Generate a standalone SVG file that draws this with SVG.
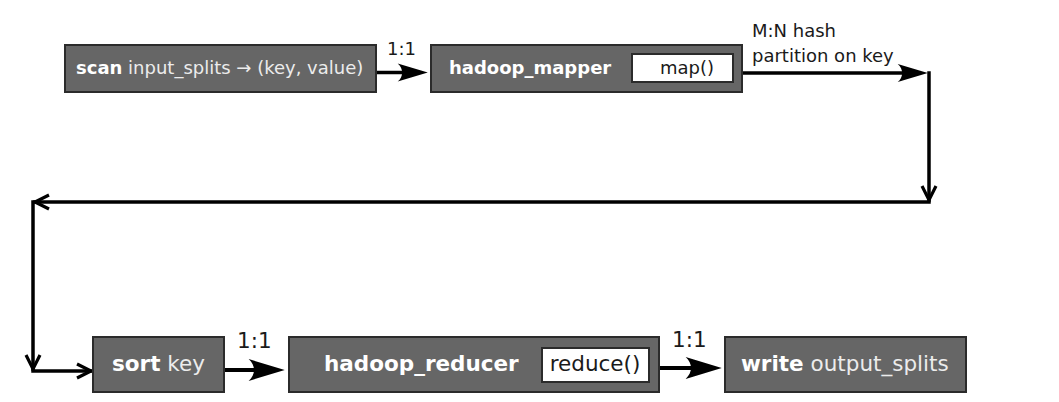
<svg xmlns="http://www.w3.org/2000/svg" width="1059" height="402" viewBox="0 0 1059 402">
  <style>
    .box { fill: #666666; stroke: #2b2b2b; stroke-width: 2; }
    .inner { fill: #ffffff; stroke: #2b2b2b; stroke-width: 2; }
    .t { font-family: "DejaVu Sans", "Liberation Sans", sans-serif; }
    .top { font-size: 18px; }
    .bot { font-size: 21.5px; }
    .b { font-weight: bold; fill: #ffffff; }
    .r { fill: #ececec; }
    .dark { fill: #1a1a1a; }
    .conn { fill: none; stroke: #000000; }
    .c1 { stroke-width: 3.5; }
    .c2 { stroke-width: 4.2; }
    .open { stroke-linecap: square; }
  </style>
  <defs>
    <marker id="fa" markerUnits="strokeWidth" viewBox="-10 -4 11 8" markerWidth="11" markerHeight="8" refX="-2.8" refY="0" orient="auto" overflow="visible">
      <path d="M0,0 L-8.6,-2.6 C-6.9,-1.1 -6.9,1.1 -8.6,2.6 Z" fill="#000"/>
    </marker>
    <marker id="oa" markerUnits="userSpaceOnUse" viewBox="-18 -10 20 20" markerWidth="20" markerHeight="20" refX="0" refY="0" orient="auto" overflow="visible">
      <path d="M-14,-7 L0,0 L-14,7" fill="none" stroke="#000" stroke-width="3.2"/>
    </marker>
  </defs>

  <g id="connectors">
    <path class="conn c1" d="M376,72.5 L418,72.5" marker-end="url(#fa)"/>
    <path class="conn c1" d="M742,73 L918,73" marker-end="url(#fa)"/>
    <path class="conn c1 open" d="M929,73 L929,200" marker-end="url(#oa)"/>
    <path class="conn c1 open" d="M929,202 L35,202" marker-end="url(#oa)"/>
    <path class="conn c1 open" d="M33,202 L33,369" marker-end="url(#oa)"/>
    <path class="conn c1 open" d="M33,371 L91,371" marker-end="url(#oa)"/>
    <path class="conn c2" d="M224,370 L273,370" marker-end="url(#fa)"/>
    <path class="conn c2" d="M659,368 L710,368" marker-end="url(#fa)"/>
    <text class="t top dark" x="387" y="55">1:1</text>
    <text class="t top dark" x="752" y="37">M:N hash</text>
    <text class="t top dark" x="752" y="62">partition on key</text>
    <text class="t bot dark" x="237" y="348">1:1</text>
    <text class="t bot dark" x="672" y="347">1:1</text>
  </g>

  <g id="scan">
    <rect class="box" x="65" y="45" width="311" height="47"/>
    <text class="t top" x="76" y="74"><tspan class="b">scan</tspan><tspan class="r"> input_splits → (key, value)</tspan></text>
  </g>

  <g id="hadoop_mapper">
    <rect class="box" x="431" y="45" width="311" height="47"/>
    <text class="t top b" x="449" y="74">hadoop_mapper</text>
    <rect class="inner" x="632" y="54" width="101" height="28"/>
    <text class="t top dark" x="687" y="74" text-anchor="middle">map()</text>
  </g>

  <g id="sort">
    <rect class="box" x="93" y="337" width="131" height="55"/>
    <text class="t bot" x="112" y="371"><tspan class="b">sort</tspan><tspan class="r"> key</tspan></text>
  </g>

  <g id="hadoop_reducer">
    <rect class="box" x="289" y="337" width="370" height="55"/>
    <text class="t bot b" x="324" y="371">hadoop_reducer</text>
    <rect class="inner" x="542" y="348" width="107" height="34"/>
    <text class="t bot dark" x="595" y="371" text-anchor="middle">reduce()</text>
  </g>

  <g id="write">
    <rect class="box" x="725" y="337" width="241" height="55"/>
    <text class="t bot" x="741" y="371"><tspan class="b">write</tspan><tspan class="r"> output_splits</tspan></text>
  </g>
</svg>
